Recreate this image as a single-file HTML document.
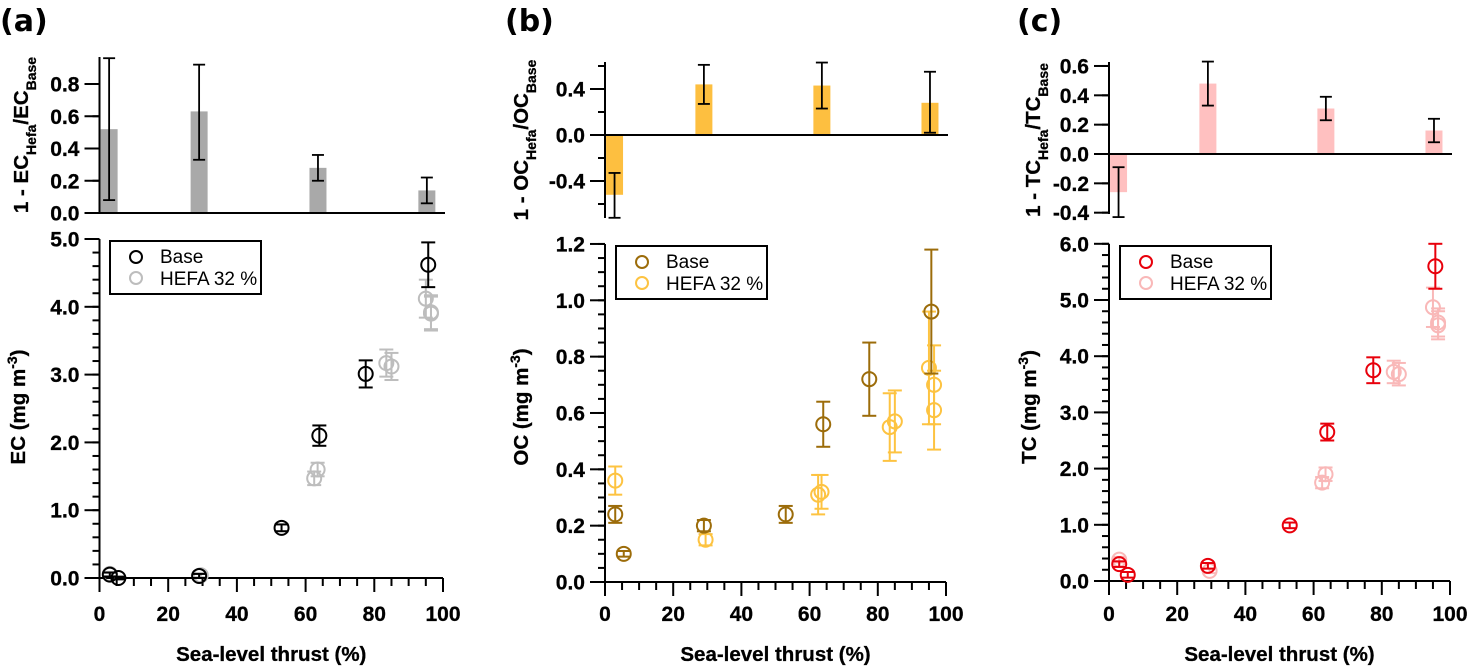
<!DOCTYPE html>
<html><head><meta charset="utf-8">
<style>
html,body{margin:0;padding:0;background:#fff;}
svg{display:block;font-family:"Liberation Sans",Arial,sans-serif;}
.tick{font-weight:bold;font-size:21px;stroke:#000;stroke-width:0.3px;}
.title{font-weight:bold;font-size:20.5px;stroke:#000;stroke-width:0.3px;}
.plabel{font-family:"DejaVu Sans","Liberation Sans",sans-serif;font-weight:bold;font-size:30px;}
.leg{font-size:19px;}
</style></head>
<body>
<svg id="chart" width="1467" height="668" viewBox="0 0 1467 668"></svg>
<script>
// ---------- data ----------
const barThrust = [2.8, 29, 63.6, 95.3];
const aBarVals = [0.52, 0.63, 0.28, 0.14];
const aBarLo = [0.08, 0.33, 0.20, 0.06];
const aBarHi = [0.96, 0.92, 0.36, 0.22];
const bBarVals = [-0.52, 0.44, 0.43, 0.28];
const bBarLo = [-0.72, 0.27, 0.23, 0.02];
const bBarHi = [-0.33, 0.61, 0.63, 0.55];
const cBarVals = [-0.26, 0.48, 0.31, 0.16];
const cBarLo = [-0.43, 0.33, 0.23, 0.08];
const cBarHi = [-0.09, 0.63, 0.39, 0.24];

const baseThrust = [3, 5.5, 29, 53, 64, 77.5, 95.7];
const hefaThrust = [3, 29.5, 62.5, 63.5, 83.5, 85, 95, 96.5, 96.5];

const ecBase = [0.05, 0.0, 0.03, 0.74, 2.10, 3.01, 4.62];
const ecBaseErr = [0.03, 0.02, 0.03, 0.05, 0.15, 0.20, 0.33];
const ecHefa = [0.06, 0.04, 1.47, 1.60, 3.17, 3.12, 4.12, 3.92, 3.90];
const ecHefaErr = [0.03, 0.03, 0.10, 0.10, 0.20, 0.20, 0.28, 0.25, 0.25];

const ocBase = [0.24, 0.10, 0.20, 0.24, 0.56, 0.72, 0.96];
const ocBaseErr = [0.03, 0.01, 0.02, 0.03, 0.08, 0.13, 0.22];
const ocHefa = [0.36, 0.15, 0.31, 0.32, 0.55, 0.57, 0.76, 0.70, 0.61];
const ocHefaErr = [0.05, 0.02, 0.07, 0.06, 0.12, 0.11, 0.20, 0.14, 0.14];

const tcBase = [0.30, 0.11, 0.27, 0.99, 2.65, 3.75, 5.60];
const tcBaseErr = [0.05, 0.05, 0.05, 0.05, 0.15, 0.23, 0.40];
const tcHefa = [0.38, 0.18, 1.75, 1.90, 3.72, 3.68, 4.87, 4.60, 4.55];
const tcHefaErr = [0.05, 0.04, 0.10, 0.12, 0.20, 0.20, 0.35, 0.25, 0.25];

const xTickLabels = ["0", "20", "40", "60", "80", "100"];
const aTopTicks = ["0.0", "0.2", "0.4", "0.6", "0.8"];
const bTopTicks = ["-0.4", "0.0", "0.4"];
const cTopTicks = ["-0.4", "-0.2", "0.0", "0.2", "0.4", "0.6"];
const aBotTicks = ["0.0", "1.0", "2.0", "3.0", "4.0", "5.0"];
const bBotTicks = ["0.0", "0.2", "0.4", "0.6", "0.8", "1.0", "1.2"];
const cBotTicks = ["0.0", "1.0", "2.0", "3.0", "4.0", "5.0", "6.0"];

// ---------- drawing ----------
const NS = "http://www.w3.org/2000/svg";
const svg = document.getElementById("chart");
function mk(tag, attrs, parent, text) {
  const e = document.createElementNS(NS, tag);
  for (const k in attrs) e.setAttribute(k, attrs[k]);
  if (text !== undefined) e.textContent = text;
  (parent || svg).appendChild(e);
  return e;
}
function line(g, x1, y1, x2, y2, col, w) {
  return mk("line", {x1, y1, x2, y2, stroke: col || "#000", "stroke-width": w || 2}, g);
}

function panel(cfg) {
  const g = mk("g", {});
  
  
  const X = v => cfg.x0 + (cfg.x100 - cfg.x0) * v / 100;
  const YT = v => cfg.tZero - cfg.tScale * v;
  const YB = v => cfg.bZero - cfg.bScale * v;

  const pl = mk("text", {x: cfg.labelX, y: 31, class: "plabel"}, g, "(" + cfg.key + ")");
  
  

  // ---- top bar chart ----
  const tg = mk("g", {}, g);
  
  
  cfg.bars.forEach((v, i) => {
    const cx = X(barThrust[i]);
    const y0 = YT(0), y1 = YT(v);
    const r = mk("rect", {x: cx - 8.5, y: Math.min(y0, y1), width: 17, height: Math.abs(y1 - y0), fill: cfg.barCol}, tg);
    
    
    const lo = YT(cfg.barLo[i]), hi = YT(cfg.barHi[i]);
    const eb = mk("g", {}, tg);
    
    
    line(eb, cx, lo, cx, hi, "#000", 1.8);
    line(eb, cx - 6, lo, cx + 6, lo, "#000", 1.8);
    line(eb, cx - 6, hi, cx + 6, hi, "#000", 1.8);
  });
  // axes
  line(tg, cfg.x0, cfg.tTop, cfg.x0, cfg.tBot, "#000", 2);
  line(tg, cfg.x0 - 15, YT(0), cfg.x100 + 2, YT(0), "#000", 2);
  for (let v = cfg.tMinorStart; v <= cfg.tMax + 1e-9; v += cfg.tMinor) {
    line(tg, cfg.x0 - 7, YT(v), cfg.x0, YT(v), "#000", 2);
  }
  cfg.topTicks.forEach(t => {
    const v = parseFloat(t);
    line(tg, cfg.x0 - 15, YT(v), cfg.x0, YT(v), "#000", 2);
    const tt = mk("text", {x: cfg.x0 - 20, y: YT(v) + 7.5, "text-anchor": "end", class: "tick"}, tg, t);
    
    
  });
  const tt = mk("text", {transform: `translate(${cfg.topTitleX},${cfg.topTitleY}) rotate(-90)`, "text-anchor": "middle", class: "title"}, tg);
  
  
  tt.innerHTML = `1 - ${cfg.sp}<tspan baseline-shift="sub" font-size="14">Hefa</tspan>/${cfg.sp}<tspan baseline-shift="sub" font-size="14">Base</tspan>`;

  // ---- bottom scatter ----
  const bg = mk("g", {}, g);
  
  
  line(bg, cfg.x0, YB(cfg.bMax), cfg.x0, YB(0) + 14, "#000", 2);
  line(bg, cfg.x0 - 15, YB(0), cfg.x100, YB(0), "#000", 2);
  for (let v = 0; v <= cfg.bMax + 1e-9; v += cfg.bMinor) {
    line(bg, cfg.x0 - 7, YB(v), cfg.x0, YB(v), "#000", 2);
  }
  cfg.botTicks.forEach(t => {
    const v = parseFloat(t);
    line(bg, cfg.x0 - 15, YB(v), cfg.x0, YB(v), "#000", 2);
    const e = mk("text", {x: cfg.x0 - 20, y: YB(v) + 7.5, "text-anchor": "end", class: "tick"}, bg, t);
    
    
  });
  for (let v = 5; v <= 100; v += 5) {
    const major = v % 20 === 0;
    line(bg, X(v), YB(0), X(v), YB(0) + (major ? 14 : 8), "#000", 2);
  }
  xTickLabels.forEach(t => {
    const v = parseFloat(t);
    const e = mk("text", {x: X(v), y: 621, "text-anchor": "middle", class: "tick"}, bg, t);
    
    
  });
  const xt = mk("text", {x: (cfg.x0 + cfg.x100) / 2, y: 661, "text-anchor": "middle", class: "title"}, bg, "Sea-level thrust (%)");
  
  
  const yt = mk("text", {transform: `translate(${cfg.botTitleX},407) rotate(-90)`, "text-anchor": "middle", class: "title"}, bg);
  
  
  yt.innerHTML = `${cfg.sp} (mg m<tspan baseline-shift="super" font-size="14">-3</tspan>)`;

  function series(xs, ys, errs, col, name, fill) {
    const sg = mk("g", {}, bg);
    
    
    ys.forEach((v, i) => {
      const cx = X(xs[i]), cy = YB(v);
      const lo = YB(v - errs[i]), hi = YB(v + errs[i]);
      line(sg, cx, lo, cx, hi, col, 2);
      line(sg, cx - 7, lo, cx + 7, lo, col, 2);
      line(sg, cx - 7, hi, cx + 7, hi, col, 2);
      const c = mk("circle", {cx, cy, r: 7, fill: fill, stroke: col, "stroke-width": 2}, sg);
      
      
    });
  }
  series(hefaThrust, cfg.hefa, cfg.hefaErr, cfg.hefaCol, 'hefa-series', 'none');
  series(baseThrust, cfg.base, cfg.baseErr, cfg.baseCol, 'base-series', 'none');

  // legend
  const lg = mk("g", {}, bg);
  
  
  mk("rect", {x: cfg.legX, y: cfg.legY, width: 151, height: 53, fill: "#fff", stroke: "#000", "stroke-width": 2}, lg);
  const e1 = mk("g", {}, lg);
  
  
  mk("circle", {cx: cfg.legX + 26, cy: cfg.legY + 16, r: 6, fill: "none", stroke: cfg.baseCol, "stroke-width": 2}, e1);
  mk("text", {x: cfg.legX + 50, y: cfg.legY + 22, class: "leg"}, e1, "Base");
  const e2 = mk("g", {}, lg);
  
  
  mk("circle", {cx: cfg.legX + 26, cy: cfg.legY + 37, r: 6, fill: "none", stroke: cfg.hefaCol, "stroke-width": 2}, e2);
  mk("text", {x: cfg.legX + 50, y: cfg.legY + 44, class: "leg"}, e2, "HEFA 32 %");
}

panel({key: "a", sp: "EC", labelX: 0, x0: 99.5, x100: 443,
  tZero: 213, tScale: 161.25, tTop: 57, tBot: 213, tMinorStart: 0, tMinor: 0.2, tMax: 0.8,
  bZero: 578, bScale: 67.8, bMax: 5, bMinor: 0.2,
  bars: aBarVals, barLo: aBarLo, barHi: aBarHi, barCol: "#a9a9a9",
  topTicks: aTopTicks, botTicks: aBotTicks,
  base: ecBase, baseErr: ecBaseErr, hefa: ecHefa, hefaErr: ecHefaErr,
  baseCol: "#000", hefaCol: "#bdbdbd",
  topTitleX: 28, topTitleY: 135, botTitleX: 25, legX: 110, legY: 241});

panel({key: "b", sp: "OC", labelX: 505, x0: 605, x100: 946,
  tZero: 135, tScale: 115, tTop: 62, tBot: 218, tMinorStart: -0.6, tMinor: 0.2, tMax: 0.6,
  bZero: 582, bScale: 281.7, bMax: 1.2, bMinor: 0.05,
  bars: bBarVals, barLo: bBarLo, barHi: bBarHi, barCol: "#fdbf40",
  topTicks: bTopTicks, botTicks: bBotTicks,
  base: ocBase, baseErr: ocBaseErr, hefa: ocHefa, hefaErr: ocHefaErr,
  baseCol: "#9c6c0a", hefaCol: "#fdc341",
  topTitleX: 528, topTitleY: 140, botTitleX: 528, legX: 616, legY: 246});

panel({key: "c", sp: "TC", labelX: 1017, x0: 1109, x100: 1450,
  tZero: 154, tScale: 146.7, tTop: 62, tBot: 214, tMinorStart: -0.4, tMinor: 0.2, tMax: 0.6,
  bZero: 581, bScale: 56.2, bMax: 6, bMinor: 0.2,
  bars: cBarVals, barLo: cBarLo, barHi: cBarHi, barCol: "#ffc0c0",
  topTicks: cTopTicks, botTicks: cBotTicks,
  base: tcBase, baseErr: tcBaseErr, hefa: tcHefa, hefaErr: tcHefaErr,
  baseCol: "#e8000b", hefaCol: "#f9b8b8",
  topTitleX: 1040, topTitleY: 140, botTitleX: 1036, legX: 1120, legY: 246});
</script>
</body></html>
